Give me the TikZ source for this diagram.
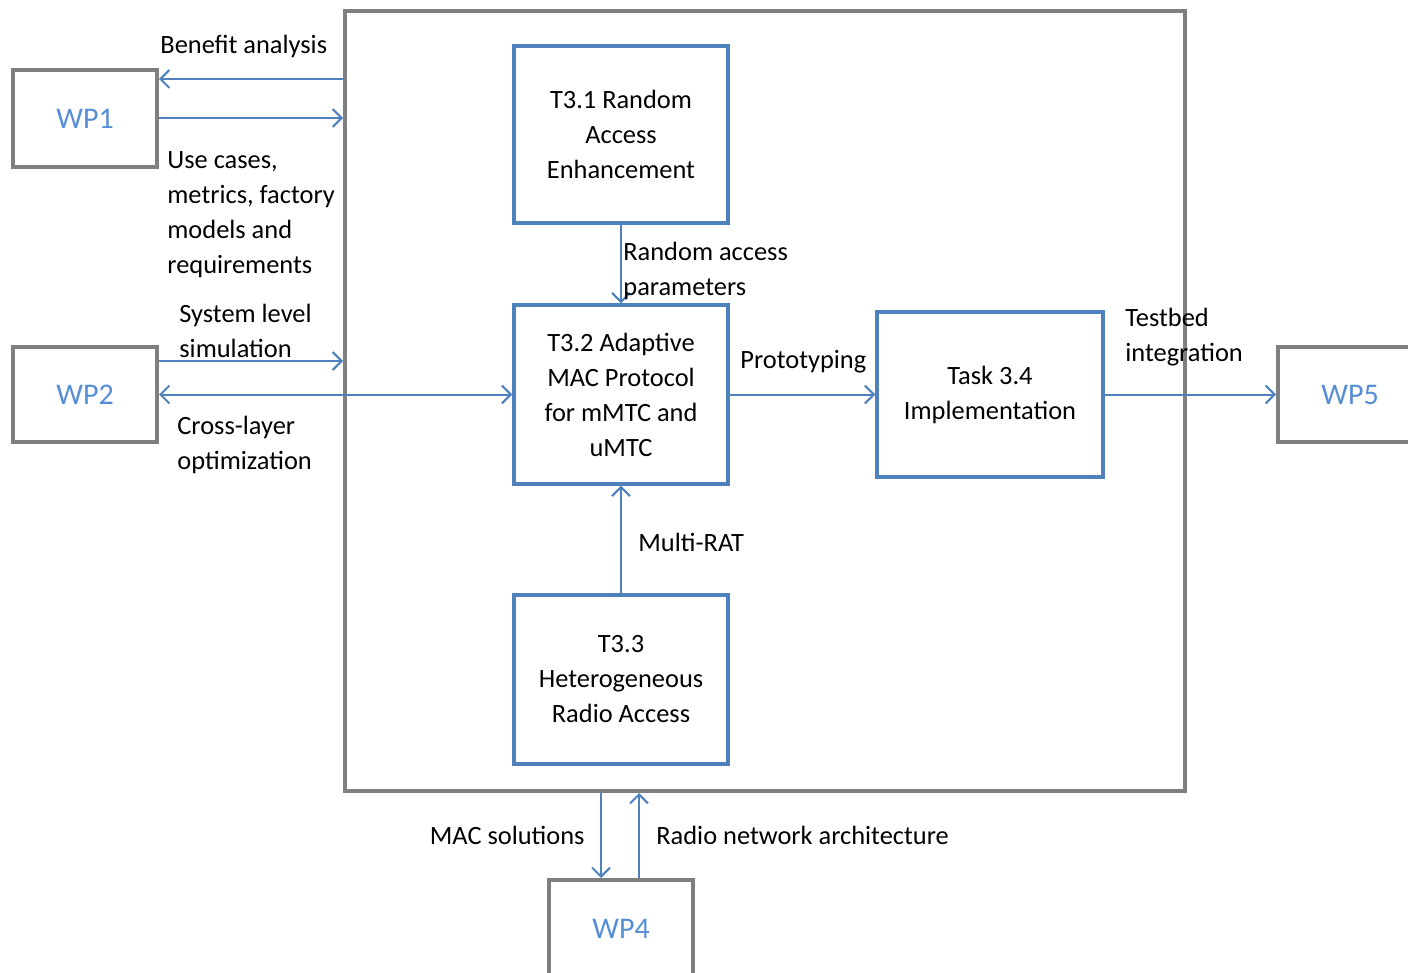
\documentclass[tikz,border=0pt]{standalone}
\usepackage{fontspec}
\setmainfont{Carlito}
\usetikzlibrary{arrows.meta}
\definecolor{boxblue}{RGB}{79,129,189}
\definecolor{wpblue}{RGB}{85,142,213}
\definecolor{frame}{RGB}{127,127,127}
\begin{document}
\begin{tikzpicture}[x=0.5pt,y=-0.5pt,
  task/.style={draw=boxblue,line width=1.7pt,rectangle,align=center,inner sep=0pt,
    font=\fontsize{13.2}{17.5}\selectfont,minimum width=107pt},
  wp/.style={draw=frame,line width=2pt,rectangle,text=wpblue,
    font=\fontsize{15}{18}\selectfont,minimum width=72pt},
  arr/.style={draw=boxblue,line width=1pt,-{Straight Barb[length=4.5pt,width=9pt]}},
  darr/.style={draw=boxblue,line width=1pt,{Straight Barb[length=4.5pt,width=9pt]}-{Straight Barb[length=4.5pt,width=9pt]}},
  lbl/.style={inner sep=0pt,align=left,font=\fontsize{13.2}{17.5}\selectfont}]
\useasboundingbox (0,0) rectangle (1408,973);
\clip (0,0) rectangle (1408,973);
% main frame
\node[draw=frame,line width=2pt,rectangle,minimum width=420pt,minimum height=390pt] (main) at (765,401) {};
% WP boxes
\node[wp,minimum height=48.5pt] (wp1) at (85,118.5) {WP1};
\node[wp,minimum height=47.5pt] (wp2) at (85,394.5) {WP2};
\node[wp,minimum height=47.5pt] (wp5) at (1350,394.5) {WP5};
\node[wp,minimum height=48.5pt] (wp4) at (621,928.5) {WP4};
% task boxes
\node[task,minimum height=88.5pt] (t31) at (621,134.5) {T3.1 Random\\Access\\Enhancement};
\node[task,minimum height=89.5pt] (t32) at (621,394.5) {T3.2 Adaptive\\MAC Protocol\\for mMTC and\\uMTC};
\node[task,minimum height=84.5pt] (t33) at (621,679.5) {T3.3\\Heterogeneous\\Radio Access};
\node[task,minimum width=113pt,minimum height=82.5pt] (t34) at (990,394.5) {Task 3.4\\Implementation};
% connectors
\draw[arr] (main.west |- 0,79) -- (wp1.east |- 0,79);
\draw[arr] (wp1.east |- 0,118) -- (main.west |- 0,118);
\draw[arr] (wp2.east |- 0,361) -- (main.west |- 0,361);
\draw[darr] (wp2.east) -- (t32.west);
\draw[arr] (t31.south) -- (t32.north);
\draw[arr] (t33.north) -- (t32.south);
\draw[arr] (t32.east) -- (t34.west);
\draw[arr] (t34.east) -- (wp5.west);
\draw[arr] (main.south -| 601,0) -- (wp4.north -| 601,0);
\draw[arr] (wp4.north -| 639,0) -- (main.south -| 639,0);
% labels
\node[lbl,anchor=west] (l1) at (160,46) {Benefit analysis};
\node[lbl,anchor=west] (l2) at (167,214.5) {Use cases,\\metrics, factory\\models and\\requirements};
\node[lbl,anchor=west] (l3) at (179,331) {System level\\simulation};
\node[lbl,anchor=west] (l4) at (177,445) {Cross-layer\\optimization};
\node[lbl,anchor=west] (l5) at (623,270.5) {Random access\\parameters};
\node[lbl,anchor=west] (l6) at (740,362) {Prototyping};
\node[lbl,anchor=west] (l7) at (1125,337) {Testbed\\integration};
\node[lbl,anchor=west] (l8) at (638,542) {Multi-RAT};
\node[lbl,anchor=east] (l9) at (585,835) {MAC solutions};
\node[lbl,anchor=west] (l10) at (656,835) {Radio network architecture};
\end{tikzpicture}
\end{document}
